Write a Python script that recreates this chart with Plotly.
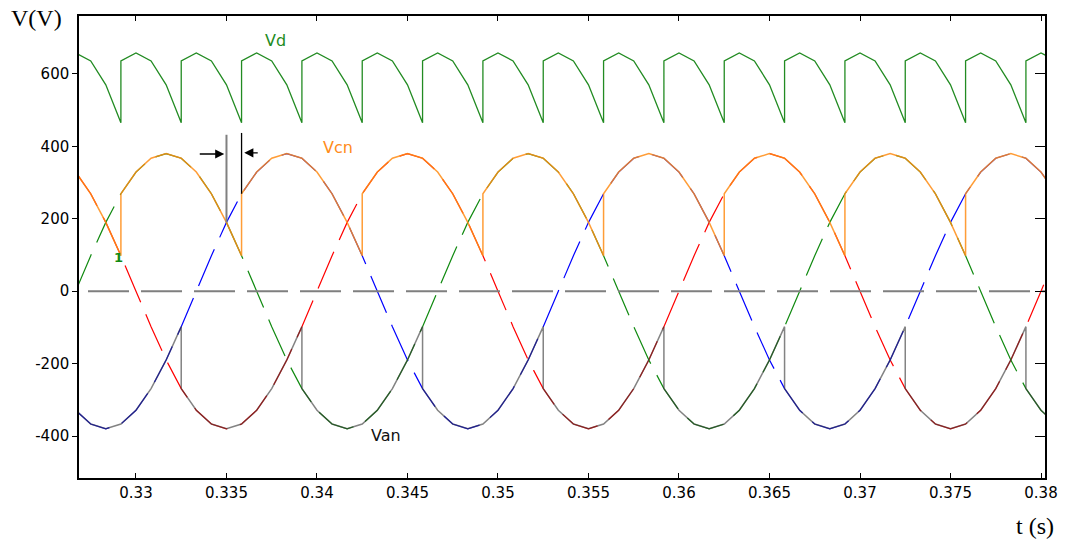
import numpy as np
import plotly.graph_objects as go

# ---------------- data ----------------
t = [0.326667, 0.3275, 0.328333, 0.329167, 0.33, 0.330833, 0.331667, 0.3325, 0.333333, 0.334167,
     0.335, 0.335833, 0.336667, 0.3375, 0.338333, 0.339167, 0.34, 0.340833, 0.341667, 0.3425,
     0.343333, 0.344167, 0.345, 0.345833, 0.346667, 0.3475, 0.348333, 0.349167, 0.35, 0.350833,
     0.351667, 0.3525, 0.353333, 0.354167, 0.355, 0.355833, 0.356667, 0.3575, 0.358333, 0.359167,
     0.36, 0.360833, 0.361667, 0.3625, 0.363333, 0.364167, 0.365, 0.365833, 0.366667, 0.3675,
     0.368333, 0.369167, 0.37, 0.370833, 0.371667, 0.3725, 0.373333, 0.374167, 0.375, 0.375833,
     0.376667, 0.3775, 0.378333, 0.379167, 0.38, 0.380833]

v_red = [329, 269, 190, 98, 0, -98, -190, -269, -329, -367,
         -380, -367, -329, -269, -190, -98, 0, 98, 190, 269,
         329, 367, 380, 367, 329, 269, 190, 98, 0, -98,
         -190, -269, -329, -367, -380, -367, -329, -269, -190, -98,
         0, 98, 190, 269, 329, 367, 380, 367, 329, 269,
         190, 98, 0, -98, -190, -269, -329, -367, -380, -367,
         -329, -269, -190, -98, 0, 98]

v_green = [0, 98, 190, 269, 329, 367, 380, 367, 329, 269,
           190, 98, 0, -98, -190, -269, -329, -367, -380, -367,
           -329, -269, -190, -98, 0, 98, 190, 269, 329, 367,
           380, 367, 329, 269, 190, 98, 0, -98, -190, -269,
           -329, -367, -380, -367, -329, -269, -190, -98, 0, 98,
           190, 269, 329, 367, 380, 367, 329, 269, 190, 98,
           0, -98, -190, -269, -329, -367]

v_blue = [-329, -367, -380, -367, -329, -269, -190, -98, 0, 98,
          190, 269, 329, 367, 380, 367, 329, 269, 190, 98,
          0, -98, -190, -269, -329, -367, -380, -367, -329, -269,
          -190, -98, 0, 98, 190, 269, 329, 367, 380, 367,
          329, 269, 190, 98, 0, -98, -190, -269, -329, -367,
          -380, -367, -329, -269, -190, -98, 0, 98, 190, 269,
          329, 367, 380, 367, 329, 269]

# firing instants and conducting phase of each group
upper_fire_t = [0.329167, 0.335833, 0.3425, 0.349167, 0.355833, 0.3625, 0.369167, 0.375833]
upper_phases = ["red", "green", "blue", "red", "green", "blue", "red", "green", "blue"]
lower_fire_t = [0.3325, 0.339167, 0.345833, 0.3525, 0.359167, 0.365833, 0.3725, 0.379167]
lower_phases = ["blue", "red", "green", "blue", "red", "green", "blue", "red", "green"]

# marker of the delay angle (natural commutation / firing)
mark_t = [0.335, 0.335833]
mark_top = [432, 437]
mark_bottom = [190, 269]

zero_t = [0.32735, 0.38022]
zero_v = [0, 0]

x_ticks = [0.33, 0.335, 0.34, 0.345, 0.35, 0.355, 0.36, 0.365, 0.37, 0.375, 0.38]
x_ticktext = ["0.33", "0.335", "0.34", "0.345", "0.35", "0.355", "0.36", "0.365", "0.37", "0.375", "0.38"]
y_ticks = [-400, -200, 0, 200, 400, 600]
y_ticktext = ["-400", "-200", "0", "200", "400", "600"]

# ---------------- build derived series ----------------
T = np.array(t)
phase = {"red": np.array(v_red, float), "green": np.array(v_green, float), "blue": np.array(v_blue, float)}


def idx(tv):
    return int(np.argmin(np.abs(T - tv)))


def envelope(fire_t, seq):
    b = [0] + [idx(f) for f in fire_t] + [len(T) - 1]
    xs, ys = [], []
    for k, name in enumerate(seq):
        i0, i1 = b[k], b[k + 1]
        xs += list(T[i0:i1 + 1])
        ys += list(phase[name][i0:i1 + 1])
    return xs, ys


up_x, up_y = envelope(upper_fire_t, upper_phases)
lo_x, lo_y = envelope(lower_fire_t, lower_phases)

events = sorted([(idx(f), "u") for f in upper_fire_t] + [(idx(f), "l") for f in lower_fire_t])
bnd = [0] + [e[0] for e in events] + [len(T) - 1]
ui = li = 0
vd_x, vd_y = [], []
for k in range(len(bnd) - 1):
    i0, i1 = bnd[k], bnd[k + 1]
    seg = phase[upper_phases[ui]][i0:i1 + 1] - phase[lower_phases[li]][i0:i1 + 1]
    vd_x += list(T[i0:i1 + 1])
    vd_y += list(seg)
    if k < len(events):
        if events[k][1] == "u":
            ui += 1
        else:
            li += 1

# ---------------- figure ----------------
DASH = "40px,13px"
fig = go.Figure()

fig.add_trace(go.Scatter(x=zero_t, y=zero_v, mode="lines", yaxis="y2",
                         line=dict(color="#7f7f7f", width=2, dash="41px,12px"), hoverinfo="skip"))
fig.add_trace(go.Scatter(x=t, y=v_red, mode="lines", line=dict(color="#ff0000", width=1.2, dash=DASH)))
fig.add_trace(go.Scatter(x=t, y=v_blue, mode="lines", line=dict(color="#0000ff", width=1.2, dash=DASH)))
fig.add_trace(go.Scatter(x=t, y=v_green, mode="lines", line=dict(color="#108a10", width=1.2, dash=DASH)))
fig.add_trace(go.Scatter(x=up_x, y=up_y, mode="lines", line=dict(color="rgba(255,140,20,0.85)", width=1.5)))
fig.add_trace(go.Scatter(x=lo_x, y=lo_y, mode="lines", line=dict(color="rgba(55,55,55,0.62)", width=1.5)))
fig.add_trace(go.Scatter(x=vd_x, y=vd_y, mode="lines", line=dict(color="#228b22", width=1.3)))

# delay-angle marker lines
fig.add_trace(go.Scatter(x=[mark_t[0], mark_t[0]], y=[mark_top[0], mark_bottom[0]], mode="lines",
                         line=dict(color="#808080", width=2)))
fig.add_trace(go.Scatter(x=[mark_t[1], mark_t[1]], y=[mark_top[1], mark_bottom[1]], mode="lines",
                         line=dict(color="#000000", width=1.3)))

ann = [
    dict(x=0.334877, y=379, ax=0.333441, ay=379, xref="x", yref="y", axref="x", ayref="y",
         text="", showarrow=True, arrowhead=2, arrowsize=1.3, arrowwidth=1.4, arrowcolor="black"),
    dict(x=0.335982, y=382, ax=0.33681, ay=382, xref="x", yref="y", axref="x", ayref="y",
         text="", showarrow=True, arrowhead=2, arrowsize=1.3, arrowwidth=1.4, arrowcolor="black"),
    dict(x=0.33769, y=691, xref="x", yref="y", text="Vd", showarrow=False,
         font=dict(family="DejaVu Sans", size=16, color="#228b22")),
    dict(x=0.34114, y=397, xref="x", yref="y", text="Vcn", showarrow=False,
         font=dict(family="DejaVu Sans", size=16, color="#ff8c1a")),
    dict(x=0.3438, y=-399, xref="x", yref="y", text="Van", showarrow=False,
         font=dict(family="DejaVu Sans", size=16, color="#111111")),
    dict(x=0.32902, y=92, xref="x", yref="y", text="<b>1</b>", showarrow=False,
         font=dict(family="DejaVu Sans", size=13, color="#108a10")),
    dict(x=-0.044, y=0.996, xref="paper", yref="paper", text="V(V)", showarrow=False,
         xanchor="center", yanchor="middle",
         font=dict(family="Liberation Serif", size=24, color="black")),
    dict(x=0.9897, y=-0.104, xref="paper", yref="paper", text="t (s)", showarrow=False,
         xanchor="center", yanchor="middle",
         font=dict(family="Liberation Serif", size=24, color="black")),
]

yr = [-516, 760]
fig.update_layout(
    width=1069, height=539,
    margin=dict(l=79, r=24, t=16, b=61),
    paper_bgcolor="white", plot_bgcolor="white",
    showlegend=False,
    annotations=ann,
    xaxis=dict(range=[0.326852, 0.380221], tickvals=x_ticks, ticktext=x_ticktext,
               ticks="inside", ticklen=5, tickcolor="black", tickwidth=1,
               showline=True, linecolor="black", linewidth=1.5, mirror="ticks",
               showgrid=False, zeroline=False,
               tickfont=dict(family="DejaVu Sans", size=15, color="black")),
    yaxis=dict(range=yr, tickvals=y_ticks, ticktext=y_ticktext,
               ticks="outside", ticklen=5, tickcolor="black", tickwidth=1,
               showline=True, linecolor="black", linewidth=1.5, mirror=True,
               showgrid=False, zeroline=False,
               tickfont=dict(family="DejaVu Sans", size=15, color="black")),
    yaxis2=dict(range=yr, tickvals=y_ticks, overlaying="y", side="right",
                ticks="inside", ticklen=10, tickcolor="black", tickwidth=1,
                showticklabels=False, showline=False, showgrid=False, zeroline=False),
)

fig.write_html("out.html", config={"displayModeBar": False},
               post_script="document.body.style.margin='0';")
